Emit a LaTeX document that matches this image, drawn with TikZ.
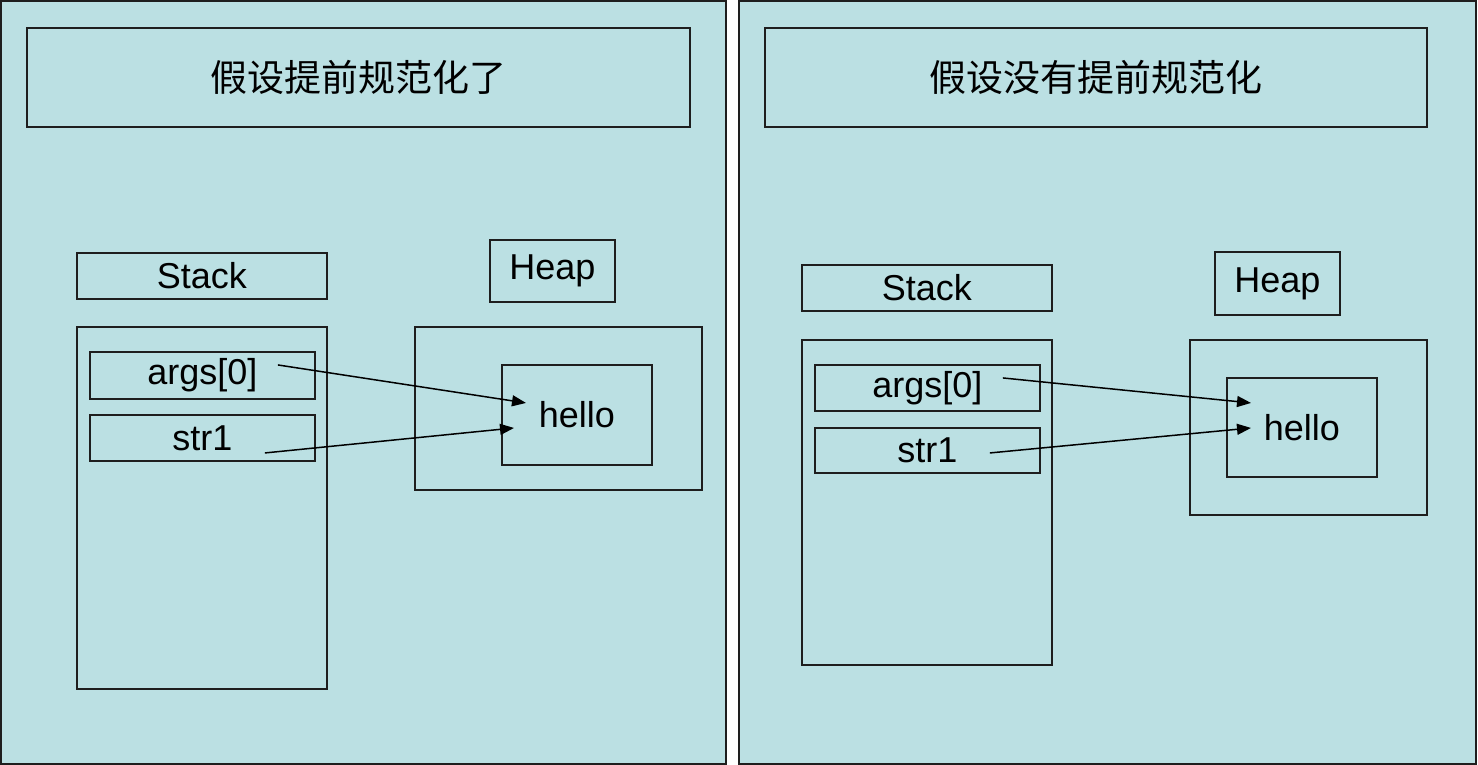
\documentclass[tikz,border=0pt]{standalone}
\usepackage{fontspec}
\setmainfont{Liberation Sans}
\newfontfamily\cjk{Noto Sans CJK SC}
\usetikzlibrary{arrows.meta}
\definecolor{panelbg}{HTML}{BBE0E3}
\definecolor{edge}{HTML}{1E1E1E}
\tikzset{
	panel/.style={draw=edge, line width=2pt, fill=panelbg},
	box/.style={draw=edge, line width=1.9pt, inner sep=0pt, anchor=north west, font=\fontsize{36}{40}\selectfont},
	ptr/.style={-{Triangle[length=14pt,width=11pt]}, line width=1.5pt, color=black}
}

\begin{document}
\begin{tikzpicture}[x=1pt, y=-1pt]
		%%%%% START %%%%%
		\useasboundingbox[fill=white] (0, 0) rectangle (1478, 765);
		
		% left panel
		\draw[panel] (1, 1) rectangle (726, 764);
		\node[box, minimum width=663pt, minimum height=99pt, font=\fontsize{37}{40}\selectfont\cjk] (title1) at (26, 27) {假设提前规范化了};
		
		\node[box, minimum width=250pt, minimum height=46pt] (stack1) at (76, 252) {Stack};
		\node[box, minimum width=125pt, minimum height=62pt] (heap1) at (489, 239) {Heap};
		
		\node[box, minimum width=250pt, minimum height=362pt] (stackbox1) at (76, 326) {};
		\node[box, minimum width=225pt, minimum height=47pt] (args1) at (89, 351) {args[0]};
		\node[box, minimum width=225pt, minimum height=46pt] (str1) at (89, 414) {str1};
		
		\node[box, minimum width=287pt, minimum height=163pt] (heapbox1) at (414, 326) {};
		\node[box, minimum width=150pt, minimum height=100pt] (hello1) at (501, 364) {hello};
		
		\draw[ptr] ([xshift=-38pt, yshift=10.5pt]args1.east) -- ([xshift=25pt, yshift=12pt]hello1.west);
		\draw[ptr] ([xshift=-51pt, yshift=-15pt]str1.east) -- ([xshift=13pt, yshift=-13pt]hello1.west);
		
		% right panel
		\draw[panel] (739, 1) rectangle (1476, 764);
		\node[box, minimum width=662pt, minimum height=99pt, font=\fontsize{37}{40}\selectfont\cjk] (title2) at (764, 27) {假设没有提前规范化};
		
		\node[box, minimum width=250pt, minimum height=46pt] (stack2) at (801, 264) {Stack};
		\node[box, minimum width=125pt, minimum height=63pt] (heap2) at (1214, 251) {Heap};
		
		\node[box, minimum width=250pt, minimum height=325pt] (stackbox2) at (801, 339) {};
		\node[box, minimum width=225pt, minimum height=46pt] (args2) at (814, 364) {args[0]};
		\node[box, minimum width=225pt, minimum height=45pt] (str2) at (814, 427) {str1};
		
		\node[box, minimum width=237pt, minimum height=175pt] (heapbox2) at (1189, 339) {};
		\node[box, minimum width=150pt, minimum height=99pt] (hello2) at (1226, 377) {hello};
		
		\draw[ptr] ([xshift=-38pt, yshift=10pt]args2.east) -- ([xshift=25pt, yshift=24.5pt]hello2.west);
		\draw[ptr] ([xshift=-51pt, yshift=-2.5pt]str2.east) -- ([xshift=25pt, yshift=-0.5pt]hello2.west);
		%%%%% END %%%%%
	\end{tikzpicture}
\end{document}
